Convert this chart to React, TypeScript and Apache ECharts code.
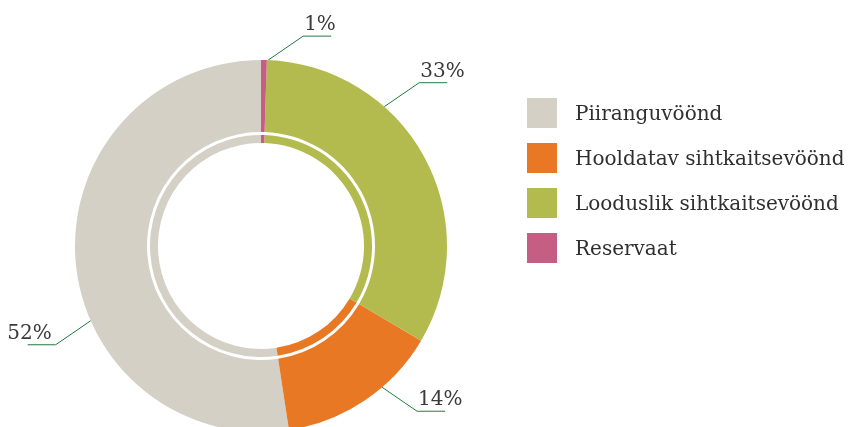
import React, { useEffect, useRef } from 'react';
import * as echarts from 'echarts';

const categories = ['Piiranguvöönd', 'Hooldatav sihtkaitsevöönd', 'Looduslik sihtkaitsevöönd', 'Reservaat'];
const shares = [52.4, 14.1, 33.0, 0.5];
const colors = ['#d4d0c6', '#e87824', '#b4bb4e', '#c65d82'];

const FONT = '"DejaVu Serif", serif';
const CX = 261;
const CY = 246;
const R_OUT = 186;
const LABEL_ANCHOR_DEG = [203.7, -49.4, 48.5, 87.8];

export default function App() {
  const ref = useRef<HTMLDivElement>(null);
  useEffect(() => {
    const chart = echarts.init(ref.current!, null, { renderer: 'svg' });
    const data = categories.map((name, i) => ({ name, value: shares[i] }));
    chart.setOption({
      animation: false,
      color: colors,
      legend: {
        orient: 'vertical',
        left: 527,
        top: 98,
        padding: 0,
        itemWidth: 30,
        itemHeight: 30,
        itemGap: 15,
        icon: 'rect',
        selectedMode: false,
        textStyle: { fontFamily: FONT, fontSize: 20, color: '#2f2f2f', padding: [0, 0, 0, 13] },
        data: categories,
      },
      series: [
        {
          type: 'pie',
          center: [CX, CY],
          radius: [114, R_OUT],
          clockwise: false,
          startAngle: 90,
          avoidLabelOverlap: false,
          emphasis: { disabled: true },
          data,
          label: {
            show: true,
            position: 'outside',
            formatter: (p: any) => Math.round(p.value) + '%',
            fontFamily: FONT,
            fontSize: 20,
            color: '#3a3a3a',
          },
          labelLine: { show: true, length: 20, length2: 28, lineStyle: { color: '#23793f', width: 1 } },
          labelLayout: (params: any) => {
            const a = (LABEL_ANCHOR_DEG[params.dataIndex] * Math.PI) / 180;
            const p0x = CX + R_OUT * Math.cos(a);
            const p0y = CY - R_OUT * Math.sin(a);
            const sx = Math.cos(a) >= 0 ? 1 : -1;
            const sy = Math.sin(a) >= 0 ? -1 : 1;
            const p1x = p0x + sx * 35;
            const p1y = p0y + sy * 24;
            const p2x = p1x + sx * 28;
            return {
              x: sx > 0 ? p1x + 1 : p1x - 4,
              y: p1y - 3,
              align: sx > 0 ? 'left' : 'right',
              verticalAlign: 'bottom',
              labelLinePoints: [
                [p0x, p0y],
                [p1x, p1y],
                [p2x, p1y],
              ],
            };
          },
        },
        {
          type: 'pie',
          center: [CX, CY],
          radius: [103, 111],
          clockwise: false,
          startAngle: 90,
          silent: true,
          emphasis: { disabled: true },
          label: { show: false },
          labelLine: { show: false },
          data,
        },
      ],
    });
    return () => chart.dispose();
  }, []);
  return <div ref={ref} style={{ position: 'fixed', left: 0, top: 0, width: 854, height: 427 }} />;
}
